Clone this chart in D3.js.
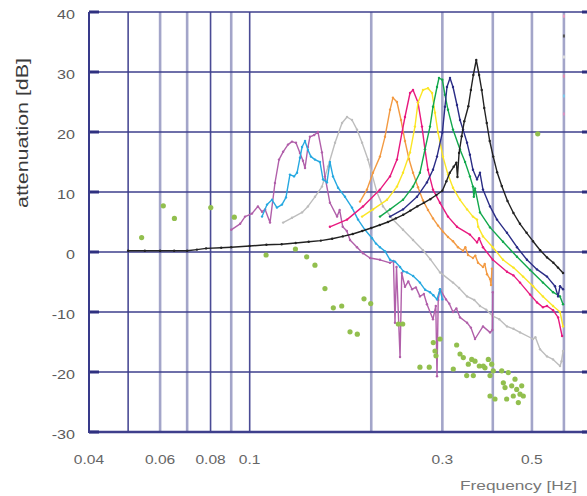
<!DOCTYPE html>
<html><head><meta charset="utf-8">
<script src="https://cdn.jsdelivr.net/npm/d3@7"></script>
<style>body{margin:0;background:#fff}svg{display:block}</style>
</head><body><svg id="c" width="587" height="496"></svg>
<script>
// ---------- data ----------
const yTicks = [-30,-20,-10,0,10,20,30,40];
const xTickLabels = [0.04,0.06,0.08,0.1,0.3,0.5];
const xGridDark = [0.05,0.08,0.1];
const xGridLight = [0.06,0.07,0.09,0.2,0.3,0.4,0.5,0.6];
const xTitle = "Frequency [Hz]";
const yTitle = "attenuation [dB]";

const seriesGray = [[0.121,4.9],[0.1273,5.7],[0.1348,6.6],[0.1394,7.6],[0.1451,9.2],[0.151,10.9],[0.1563,14.2],[0.1627,18.2],[0.1693,21.5],[0.1742,22.5],[0.1792,22],[0.1844,20.4],[0.1898,18.2],[0.1963,15.4],[0.2067,9.9],[0.2139,7.6],[0.2263,5.4],[0.2397,3.7],[0.2538,2.0],[0.2686,0.3],[0.28,-1.2],[0.296,-3.4],[0.3188,-5.1],[0.33,-6.0],[0.3454,-7.4],[0.36,-8.0],[0.3718,-9.0],[0.385,-9.6],[0.4,-10.7],[0.415,-11.2],[0.4337,-12.4],[0.45,-12.8],[0.4672,-13.4],[0.5032,-14.5],[0.51,-14.2],[0.5236,-16.2],[0.5449,-17.4],[0.564,-17.9],[0.5869,-19],[0.592,-18.2],[0.597,-16.5]];

const seriesPurple = [[0.090,3.7],[0.0947,4.7],[0.0974,5.9],[0.1013,6.4],[0.1048,7.6],[0.1073,6.7],[0.1092,7.1],[0.1123,4.9],[0.1155,11.5],[0.1182,15.4],[0.121,16.7],[0.1244,17.9],[0.1273,18.4],[0.1302,18.2],[0.1332,16.5],[0.1355,15.2],[0.1371,14],[0.1394,17.5],[0.141,19.2],[0.1445,19.5],[0.1476,20],[0.151,16.6],[0.1536,12.6],[0.158,8.2],[0.1646,5.9],[0.167,7],[0.170,4.2],[0.174,3.5],[0.1772,2.0],[0.1844,0.8],[0.1908,-0.2],[0.1986,-1.0],[0.2102,-1.3],[0.2226,-1.8],[0.227,-1.5],[0.229,-11.8],[0.231,-2.5],[0.2357,-17.5],[0.238,-3.5],[0.2424,-5.8],[0.247,-4.9],[0.2524,-6.2],[0.258,-5.9],[0.264,-7.4],[0.27,-7.0],[0.2748,-8.7],[0.2844,-11.2],[0.289,-9],[0.291,-20.7],[0.293,-8],[0.296,-6.2],[0.3063,-7.9],[0.312,-8.6],[0.3188,-10],[0.325,-9.4],[0.3318,-10.9],[0.3454,-11.8],[0.353,-12.6],[0.3614,-14.5],[0.3782,-12.4],[0.3937,-13.4],[0.399,-13],[0.4,-6.7]];

const seriesCyan = [[0.1073,5.9],[0.1104,7.9],[0.1136,8.7],[0.1168,7.4],[0.1202,7.9],[0.123,9.1],[0.1258,12.9],[0.1288,12.6],[0.131,13.2],[0.1332,15.7],[0.1348,17.5],[0.1371,18.5],[0.1394,17.0],[0.1418,15.9],[0.1451,15.4],[0.1493,15],[0.1519,12.1],[0.1554,11.6],[0.158,15],[0.1608,12.6],[0.1655,10.7],[0.1722,9.2],[0.1792,7.4],[0.1855,5.4],[0.193,3.7],[0.2009,2.3],[0.2055,1.4],[0.2102,0.8],[0.2165,0.1],[0.2226,-1.3],[0.229,-1.6],[0.2357,-2.5],[0.24,-3.2],[0.2452,-3.4],[0.254,-4.0],[0.264,-5.1],[0.272,-6.3],[0.2796,-6.7],[0.285,-7.2],[0.291,-7.9],[0.296,-6.2],[0.3,-7.9]];

const seriesOrange = [[0.1876,8.4],[0.1952,10.4],[0.202,13.2],[0.2102,15.9],[0.2163,19.2],[0.2226,23.7],[0.2263,25.7],[0.2316,25],[0.237,22],[0.2424,18.5],[0.248,15.5],[0.2538,13.2],[0.2611,10.8],[0.2686,8.6],[0.2764,7],[0.2844,5.6],[0.2927,4.4],[0.301,3.4],[0.3098,2.5],[0.3188,1.8],[0.328,0.8],[0.3376,0.2],[0.342,0.8],[0.3473,-0.5],[0.3572,-1],[0.362,-0.6],[0.3676,-1.8],[0.3782,-2.5],[0.382,-2.0],[0.387,-3.7],[0.3937,-4.5],[0.396,-5.5],[0.398,-2.8]];

const seriesMagenta = [[0.158,4.2],[0.1742,5.4],[0.1908,7.6],[0.2102,10.4],[0.2226,12.6],[0.2316,15.4],[0.2383,19.9],[0.2424,22.5],[0.2495,26.5],[0.2538,27],[0.2611,24.9],[0.2671,20.9],[0.2717,17.1],[0.2764,13.7],[0.2844,10.4],[0.296,8.2],[0.3098,5.9],[0.3261,4.2],[0.3511,2.9],[0.3656,1.6],[0.37,2.3],[0.3782,0.8],[0.4,-1.3],[0.4337,-3.3],[0.45,-3.9],[0.4672,-5.1],[0.4948,-7.1],[0.5146,-8.4],[0.5324,-9.2],[0.545,-9.0],[0.564,-9.7],[0.5805,-10.9],[0.5938,-14.0]];

const seriesYellow = [[0.1898,5.9],[0.202,7.1],[0.2188,8.7],[0.2316,10.9],[0.2397,13.2],[0.2495,16.6],[0.2566,20.9],[0.2611,24.9],[0.2686,27],[0.2764,27.3],[0.2829,26.5],[0.2877,23.2],[0.2927,19.9],[0.301,15.9],[0.3098,12.9],[0.3188,10.7],[0.3318,8.7],[0.3454,7.1],[0.3572,5.9],[0.3656,5.4],[0.368,4.2],[0.3782,2.6],[0.4,0.8],[0.424,-1.3],[0.45,-2.6],[0.4753,-4.1],[0.5032,-5.7],[0.5324,-7.4],[0.564,-9],[0.5869,-10],[0.597,-12.4]];

const seriesGreen = [[0.2102,5.9],[0.2226,7.1],[0.2397,8.7],[0.2538,10.9],[0.264,13.2],[0.2717,17.1],[0.2796,20.9],[0.2844,24.2],[0.291,27.5],[0.2943,29],[0.3,28.7],[0.3045,26.2],[0.3098,23.7],[0.3188,20.4],[0.3318,17.1],[0.3415,15],[0.3511,12.6],[0.3572,10.9],[0.359,9.2],[0.3614,10.6],[0.3718,6.6],[0.3937,4.1],[0.424,1.7],[0.4592,-0.8],[0.4948,-3],[0.5324,-5.1],[0.564,-6.7],[0.5869,-7.4],[0.597,-8.7]];

const seriesNavy = [[0.2226,5.9],[0.2397,7.1],[0.2596,9.2],[0.2748,11.6],[0.2844,13.7],[0.291,15.9],[0.3,19.9],[0.3045,24.2],[0.308,27.5],[0.3134,29],[0.3188,27.5],[0.3261,24.5],[0.3318,22],[0.3376,20.4],[0.3454,18.2],[0.3511,16.2],[0.3572,13.7],[0.3656,12.1],[0.3718,13.2],[0.3782,10.4],[0.3937,7.6],[0.4096,5.4],[0.4337,3.2],[0.4592,0.8],[0.486,-1.3],[0.5146,-2.9],[0.5449,-4.1],[0.5704,-5.7],[0.5805,-7.4],[0.5869,-5.7],[0.597,-6.2]];

const seriesBlack = [[0.05,0.2],[0.055,0.2],[0.06,0.2],[0.065,0.2],[0.07,0.2],[0.074,0.4],[0.078,0.6],[0.085,0.7],[0.09,0.8],[0.1,1.0],[0.11,1.2],[0.12,1.3],[0.13,1.5],[0.14,1.7],[0.15,1.9],[0.16,2.2],[0.17,2.6],[0.18,3.0],[0.19,3.5],[0.2,4.0],[0.21,4.5],[0.22,5.0],[0.23,5.6],[0.24,6.2],[0.25,6.9],[0.26,7.6],[0.27,8.2],[0.28,8.8],[0.29,9.5],[0.3,10.2],[0.307,11.8],[0.313,13.2],[0.32,14.2],[0.325,14.9],[0.327,12.5],[0.33,16.5],[0.335,19.3],[0.34,21.8],[0.348,24.3],[0.353,27],[0.358,29.5],[0.364,32],[0.37,29.5],[0.3755,27],[0.381,24],[0.3864,21.5],[0.393,18.5],[0.401,15.9],[0.41,13.3],[0.421,11],[0.435,8.5],[0.45,6.5],[0.467,4.7],[0.485,3.2],[0.503,1.8],[0.524,0.3],[0.545,-0.9],[0.565,-1.8],[0.58,-2.6],[0.597,-3.5]];

const measuredF = [0.054,0.0611,0.0651,0.0801,0.0916,0.1098,0.1298,0.1384,0.1451,0.1536,0.1611,0.169,0.1772,0.1847,0.1919,0.1994,0.2334,0.2393,0.264,0.2784,0.2849,0.2877,0.2893,0.296,0.3193,0.3255,0.3318,0.3381,0.3447,0.3479,0.3547,0.3579,0.3614,0.3704,0.3789,0.3826,0.3899,0.3937,0.3937,0.3975,0.4011,0.405,0.4209,0.4248,0.4289,0.4329,0.4369,0.4455,0.4496,0.454,0.4584,0.4627,0.4672,0.4717,0.476,0.5168];
const measuredDB = [2.4,7.7,5.6,7.4,5.8,-0.5,0.5,-0.8,-2.2,-6.1,-9.3,-9.0,-13.3,-13.7,-7.8,-8.6,-12.0,-12.0,-19.2,-19.2,-15.1,-16.5,-17.3,-14.5,-19.5,-15.5,-17,-17.6,-20.6,-18.7,-17.9,-20.6,-18.2,-19,-19,-19.3,-17.9,-20.6,-24,-18.7,-19.8,-24.5,-19.8,-21.8,-22.6,-24.5,-20.1,-22.3,-24.0,-21.2,-22.9,-25.1,-23.7,-22.3,-24.0,19.7];

const legendColors = ["#e89cc0","#555555","#dddddd","#e08ab0","#7cc8ea","#d890c0"];
const legendDB = [39.3,36,32.5,29.3,26,23];

// ---------- drawing ----------
const svg = d3.select("#c");
const W = 587, H = 496;
const padL = 89, padT = 12, padB = 432;
const x = d3.scaleLog().domain([0.04, 0.7]).range([padL, padL + 403.8 * Math.log10(17.5)]);
const y = d3.scaleLinear().domain([-30, 40]).range([padB, padT]);

svg.append("defs").append("clipPath").attr("id","pc")
  .append("rect").attr("x",padL).attr("y",padT-2).attr("width",W-padL).attr("height",padB-padT+4);

const grid = svg.append("g");
grid.selectAll(".vl").data(xGridLight).join("line")
  .attr("x1",d=>x(d)).attr("x2",d=>x(d)).attr("y1",padT).attr("y2",padB)
  .attr("stroke","#a3a5c9").attr("stroke-width",2.6);
grid.selectAll(".vd").data(xGridDark).join("line")
  .attr("x1",d=>x(d)).attr("x2",d=>x(d)).attr("y1",padT).attr("y2",padB)
  .attr("stroke","#4a4b95").attr("stroke-width",1.6);
grid.selectAll(".h").data(yTicks).join("line")
  .attr("x1",padL).attr("x2",W).attr("y1",d=>y(d)).attr("y2",d=>y(d))
  .attr("stroke","#3e3f8c").attr("stroke-width",d=>d===-30?2.6:1.7);
grid.selectAll(".tl").data(yTicks).join("line")
  .attr("x1",padL).attr("x2",padL+10).attr("y1",d=>y(d)).attr("y2",d=>y(d))
  .attr("stroke","#2f3080").attr("stroke-width",3);
grid.selectAll(".tr").data(yTicks).join("line")
  .attr("x1",W-5).attr("x2",W).attr("y1",d=>y(d)).attr("y2",d=>y(d))
  .attr("stroke","#2f3080").attr("stroke-width",3);
grid.append("line").attr("x1",padL).attr("x2",padL).attr("y1",padT).attr("y2",padB+1)
  .attr("stroke","#383a8a").attr("stroke-width",2);

const line = d3.line().x(d=>x(d[0])).y(d=>y(d[1]));
const plot = svg.append("g").attr("clip-path","url(#pc)");
const series = [
  [seriesGray,"#bdbdbd"],
  [seriesPurple,"#b160aa"],
  [seriesCyan,"#27a9e1"],
  [seriesOrange,"#f39a42"],
  [seriesMagenta,"#e8197f"],
  [seriesYellow,"#fbe625"],
  [seriesGreen,"#12a84c"],
  [seriesNavy,"#2b2d86"],
  [seriesBlack,"#222222"]
];
series.forEach(([data,color])=>{
  plot.append("path").datum(data).attr("d",line)
    .attr("fill","none").attr("stroke",color).attr("stroke-width",1.4)
    .attr("stroke-linejoin","round");
  plot.append("g").selectAll("circle").data(data).join("circle")
    .attr("cx",d=>x(d[0])).attr("cy",d=>y(d[1])).attr("r",1.2).attr("fill",color);
});

plot.append("g").selectAll("circle").data(measuredF).join("circle")
  .attr("cx",d=>x(d)).attr("cy",(d,i)=>y(measuredDB[i])).attr("r",2.6)
  .attr("fill","#92bf4e");

plot.append("g").selectAll("rect").data(legendDB).join("rect")
  .attr("x",x(0.6)-1).attr("y",d=>y(d)-1.5).attr("width",2).attr("height",3)
  .attr("fill",(d,i)=>legendColors[i]);

// ---------- text ----------
const font = "Liberation Sans, Arial, Helvetica, sans-serif";
function stretch(sel, k){
  sel.each(function(){
    const len = this.getComputedTextLength();
    d3.select(this).attr("textLength",len*k).attr("lengthAdjust","spacingAndGlyphs");
  });
}
svg.append("g").selectAll("text").data(yTicks).join("text")
  .attr("x",75).attr("y",d=>y(d)+6.5).attr("text-anchor","end")
  .attr("font-family",font).attr("font-size",13).attr("fill","#5a5a5a")
  .text(d=>d).call(stretch,1.24);

svg.append("g").selectAll("text").data(xTickLabels).join("text")
  .attr("x",d=>x(d)).attr("y",464).attr("text-anchor","middle")
  .attr("font-family",font).attr("font-size",13.5).attr("fill","#666")
  .text(d=>String(d)).call(stretch,1.15);

svg.append("text").attr("x",460).attr("y",490)
  .attr("font-family",font).attr("font-size",13.5).attr("fill","#777")
  .text(xTitle).call(stretch,1.28);

svg.append("text").attr("transform","translate(28,133) rotate(-90)")
  .attr("text-anchor","middle")
  .attr("font-family",font).attr("font-size",16).attr("fill","#3a3a3a")
  .text(yTitle).attr("textLength",150).attr("lengthAdjust","spacingAndGlyphs");
</script>
</body></html>
